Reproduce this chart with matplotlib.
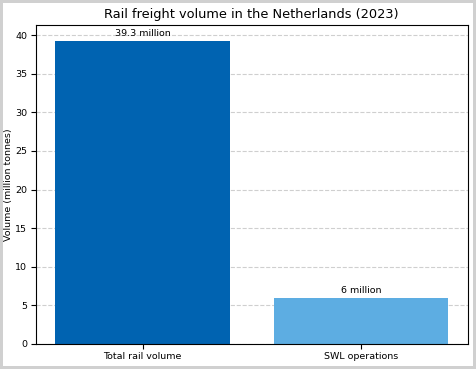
import matplotlib
matplotlib.use("Agg")
import matplotlib.pyplot as plt

categories = ["Total rail volume", "SWL operations"]
volumes = [39.3, 6]
labels = ["39.3 million", "6 million"]
colors = ["#0063b1", "#5dade2"]

fig, ax = plt.subplots(figsize=(4.76, 3.69), dpi=100)
fig.patch.set_edgecolor("#d0d0d0")
fig.patch.set_linewidth(3)

bars = ax.bar(categories, volumes, color=colors, width=0.8, zorder=2)
for b, lab in zip(bars, labels):
    ax.text(b.get_x() + b.get_width() / 2, b.get_height() + 0.3, lab,
            ha="center", va="bottom", fontsize=6.8)

ax.set_title("Rail freight volume in the Netherlands (2023)", fontsize=9.3, pad=5)
ax.set_ylabel("Volume (million tonnes)", fontsize=6.8, labelpad=1.5)
ax.set_ylim(0, 41.3)
ax.tick_params(labelsize=6.8, pad=2.5)
ax.yaxis.grid(True, linestyle="--", alpha=0.6, zorder=0)

plt.subplots_adjust(left=0.075, right=0.983, top=0.932, bottom=0.068)
fig.savefig("out.png", dpi=100, edgecolor=fig.get_edgecolor())
